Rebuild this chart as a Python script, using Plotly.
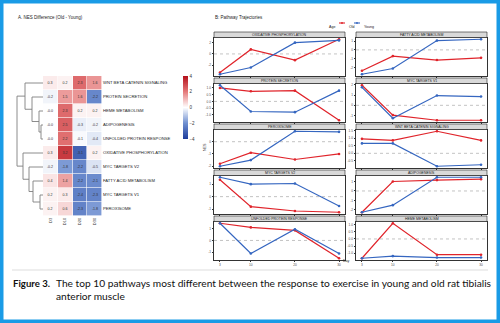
import plotly.graph_objects as go

# ---------------- data ----------------
pathways = ["WNT BETA CATENIN SIGNALING", "PROTEIN SECRETION", "HEME METABOLISM",
            "ADIPOGENESIS", "UNFOLDED PROTEIN RESPONSE", "OXIDATIVE PHOSPHORYLATION",
            "MYC TARGETS V2", "FATTY ACID METABOLISM", "MYC TARGETS V1", "PEROXISOME"]
day_labels = ["D3", "D10", "D20", "D30"]
nes_diff = [
    [0.3, 0.2, 2.3, 1.6],
    [-0.2, 1.5, 1.6, -2.2],
    [-0.02, 2.3, 0.2, 0.2],
    [-0.02, 2.5, -0.3, -0.2],
    [-0.02, 2.2, -0.1, -0.4],
    [0.3, 3.2, -3.1, 0.2],
    [-0.2, -1.8, -2.2, -0.5],
    [0.4, 1.4, -2.2, -2.1],
    [0.2, 0.3, -2.4, -2.3],
    [0.2, 0.6, -2.3, -1.8],
]
# hierarchical clustering merges (child a, child b, height); new nodes numbered from 10
merges = [(3, 4, 0.2), (2, 10, 0.4), (1, 11, 1.1), (0, 12, 1.8),
          (8, 9, 0.3), (7, 14, 1.0), (6, 15, 1.4), (5, 16, 2.0), (13, 17, 2.6)]
colorbar_ticks = [-4, -2, 0, 2, 4]

days = [3, 10, 20, 30]
facets = ["OXIDATIVE PHOSPHORYLATION", "FATTY ACID METABOLISM", "PROTEIN SECRETION",
          "MYC TARGETS V1", "PEROXISOME", "WNT BETA CATENIN SIGNALING", "MYC TARGETS V2",
          "ADIPOGENESIS", "UNFOLDED PROTEIN RESPONSE", "HEME METABOLISM"]
old_nes = {
    "OXIDATIVE PHOSPHORYLATION": [-3.3, 0.8, -1.1, 2.6],
    "FATTY ACID METABOLISM": [-2.35, -0.7, -1.15, -0.9],
    "PROTEIN SECRETION": [1.0, 0.75, 0.8, -1.4],
    "MYC TARGETS V1": [1.95, -0.95, -1.45, -1.45],
    "PEROXISOME": [-1.8, -0.9, -1.45, -1.0],
    "WNT BETA CATENIN SIGNALING": [0.95, 0.85, 1.45, 0.85],
    "MYC TARGETS V2": [1.35, -0.8, -1.15, -1.25],
    "ADIPOGENESIS": [-2.25, 1.0, 1.15, 1.25],
    "UNFOLDED PROTEIN RESPONSE": [1.45, 1.1, 0.85, -1.5],
    "HEME METABOLISM": [-1.35, 1.1, -1.1, -1.1],
}
young_nes = {
    "OXIDATIVE PHOSPHORYLATION": [-3.6, -2.4, 2.0, 2.4],
    "FATTY ACID METABOLISM": [-2.75, -2.1, 1.05, 1.2],
    "PROTEIN SECRETION": [1.2, -0.75, -0.8, 0.8],
    "MYC TARGETS V1": [1.75, -1.25, 0.95, 0.85],
    "PEROXISOME": [-2.0, -1.5, 0.85, 0.8],
    "WNT BETA CATENIN SIGNALING": [0.65, 0.65, -0.85, -0.75],
    "MYC TARGETS V2": [1.55, 1.0, 1.05, -0.75],
    "ADIPOGENESIS": [-2.25, -1.5, 1.45, 1.45],
    "UNFOLDED PROTEIN RESPONSE": [1.45, -1.1, 0.95, -1.1],
    "HEME METABOLISM": [-1.35, -1.2, -1.3, -1.3],
}
y_breaks = {
    "OXIDATIVE PHOSPHORYLATION": [-2, 0, 2],
    "FATTY ACID METABOLISM": [-2, -1, 0, 1],
    "PROTEIN SECRETION": [-1, -0.5, 0, 0.5, 1],
    "MYC TARGETS V1": [-1, 0, 1, 2],
    "PEROXISOME": [-2, -1, 0],
    "WNT BETA CATENIN SIGNALING": [-0.5, 0, 0.5, 1, 1.5],
    "MYC TARGETS V2": [-1, 0, 1],
    "ADIPOGENESIS": [-2, -1, 0, 1],
    "UNFOLDED PROTEIN RESPONSE": [-1, 0, 1],
    "HEME METABOLISM": [-1, -0.5, 0, 0.5, 1],
}

# ---------------- layout helpers ----------------
W, H = 500, 323
def px(x): return x / W
def py(y): return 1 - y / H

FONT = "Liberation Sans"
RED = "#E0242B"
BLUE = "#3566C0"

fig = go.Figure()
shapes, annotations = [], []

# ---------------- heatmap ----------------
hm_x0, hm_x1, hm_y0, hm_y1 = 43, 102, 76, 216
fig.add_trace(go.Heatmap(
    z=nes_diff, x=list(range(len(day_labels))), y=list(range(len(pathways))),
    text=[[f"{v:.1f}" for v in row] for row in nes_diff], texttemplate="%{text}",
    textfont=dict(size=3.6, color="#333333", family=FONT),
    colorscale=[[0, "#1e3d9c"], [0.25, "#6f8fd0"], [0.5, "#ffffff"],
                [0.75, "#e57a7a"], [1, "#b40f1a"]],
    zmin=-4, zmax=4, xgap=0.6, ygap=0.6, hoverinfo="skip",
    xaxis="x", yaxis="y",
    colorbar=dict(x=px(183), xanchor="left", y=py(107.5), yanchor="middle",
                  lenmode="pixels", len=63, thickness=5, outlinewidth=0,
                  tickvals=colorbar_ticks, ticks="", tickfont=dict(size=4.5, color="#333", family=FONT),
                  xpad=0, ypad=0),
))

# ---------------- dendrogram ----------------
pos = {i: (0.0, float(i)) for i in range(len(pathways))}
dx, dy = [], []
for k, (a, b, h) in enumerate(merges):
    ha, ya = pos[a]
    hb, yb = pos[b]
    dx += [ha, h, h, hb, None]
    dy += [ya, ya, yb, yb, None]
    pos[len(pathways) + k] = (h, (ya + yb) / 2)
fig.add_trace(go.Scatter(x=dx, y=dy, mode="lines", line=dict(color="#7f7f7f", width=0.9),
                         xaxis="x2", yaxis="y2", hoverinfo="skip", showlegend=False))

layout = dict(
    width=W, height=H, margin=dict(l=0, r=0, t=0, b=0),
    paper_bgcolor="white", plot_bgcolor="white", showlegend=False,
    font=dict(family=FONT),
    xaxis=dict(domain=[px(hm_x0), px(hm_x1)], anchor="y", range=[-0.5, 3.5],
               tickvals=list(range(4)), ticktext=day_labels, tickangle=-90,
               tickfont=dict(size=4, color="#333"), ticks="", showgrid=False, zeroline=False,
               showline=False),
    yaxis=dict(domain=[py(hm_y1), py(hm_y0)], anchor="x", range=[9.5, -0.5], side="right",
               tickvals=list(range(10)), ticktext=pathways, tickfont=dict(size=4.2, color="#222"),
               ticks="", showgrid=False, zeroline=False, showline=False),
    xaxis2=dict(domain=[px(15), px(hm_x0)], anchor="y2", range=[2.8, 0], visible=False),
    yaxis2=dict(domain=[py(hm_y1), py(hm_y0)], anchor="x2", range=[9.5, -0.5], visible=False),
)

# ---------------- trajectory panels ----------------
col_x = [(214, 345), (356, 487)]
x_pad = (days[-1] - days[0]) * 0.05
for i, name in enumerate(facets):
    r, c = divmod(i, 2)
    n = i + 3
    xl, xr = col_x[c]
    ht = 32 + 46 * r
    top, bot = ht + 5.5, ht + 44
    vals = old_nes[name] + young_nes[name]
    lo, hi = min(vals), max(vals)
    pad = (hi - lo) * 0.05
    br = y_breaks[name]
    is_int = all(float(b).is_integer() for b in br)
    ttxt = [f"{b:.0f}" if is_int else f"{b:.1f}" for b in br]
    layout[f"xaxis{n}"] = dict(domain=[px(xl), px(xr)], anchor=f"y{n}",
                               range=[days[0] - x_pad, days[-1] + x_pad],
                               tickvals=days, ticktext=[str(d) for d in days],
                               showticklabels=(r == 4), ticks="outside", ticklen=1.5, tickwidth=0.5,
                               tickcolor="#333", tickfont=dict(size=3.2, color="#4d4d4d"),
                               showline=True, mirror=True, linecolor="#333", linewidth=0.6,
                               showgrid=False, zeroline=False)
    layout[f"yaxis{n}"] = dict(domain=[py(bot), py(top)], anchor=f"x{n}",
                               range=[lo - pad, hi + pad], tickvals=br, ticktext=ttxt,
                               ticks="outside", ticklen=1.5, tickwidth=0.5, tickcolor="#333",
                               tickfont=dict(size=3.2, color="#4d4d4d"),
                               showline=True, mirror=True, linecolor="#333", linewidth=0.6,
                               showgrid=False, zeroline=False)
    shapes.append(dict(type="line", xref=f"x{n} domain", yref=f"y{n}", x0=0, x1=1, y0=0, y1=0,
                       line=dict(color="#9a9a9a", width=0.6, dash="dot"), layer="below"))
    fig.add_trace(go.Scatter(x=days, y=old_nes[name], mode="lines+markers",
                             line=dict(color=RED, width=1.2), marker=dict(size=2.6, color=RED),
                             xaxis=f"x{n}", yaxis=f"y{n}", hoverinfo="skip"))
    fig.add_trace(go.Scatter(x=days, y=young_nes[name], mode="lines+markers",
                             line=dict(color=BLUE, width=1.2), marker=dict(size=2.6, color=BLUE),
                             xaxis=f"x{n}", yaxis=f"y{n}", hoverinfo="skip"))
    # strip
    shapes.append(dict(type="rect", xref="paper", yref="paper", x0=px(xl), x1=px(xr),
                       y0=py(ht + 5.5), y1=py(ht), fillcolor="#d9d9d9",
                       line=dict(color="#222", width=0.6)))
    annotations.append(dict(x=px((xl + xr) / 2), y=py(ht + 2.9), xref="paper", yref="paper",
                            text=name, showarrow=False, xanchor="center", yanchor="middle",
                            font=dict(size=3.5, color="#1a1a1a")))

# axis titles
annotations.append(dict(x=px(352), y=py(265), xref="paper", yref="paper", text="Day",
                        showarrow=False, font=dict(size=3.6, color="#222")))
annotations.append(dict(x=px(205), y=py(147), xref="paper", yref="paper", text="NES",
                        textangle=-90, showarrow=False, font=dict(size=3.6, color="#222")))

# legend (manual)
annotations.append(dict(x=px(327), y=py(23), xref="paper", yref="paper", text="Age",
                        showarrow=False, xanchor="left", font=dict(size=3.6, color="#222")))
for lx, col, lab in [(339, RED, "Old"), (354, BLUE, "Young")]:
    shapes.append(dict(type="line", xref="paper", yref="paper", x0=px(lx), x1=px(lx + 6),
                       y0=py(23), y1=py(23), line=dict(color=col, width=1.1)))
    shapes.append(dict(type="circle", xref="paper", yref="paper", x0=px(lx + 2.1), x1=px(lx + 3.9),
                       y0=py(23.9), y1=py(22.1), fillcolor=col, line=dict(width=0)))
    annotations.append(dict(x=px(lx + 7.5), y=py(23), xref="paper", yref="paper", text=lab,
                            showarrow=False, xanchor="left", font=dict(size=3.6, color="#222")))

# panel titles
annotations.append(dict(x=px(16), y=py(13), xref="paper", yref="paper",
                        text="A. NES Difference (Old - Young)", showarrow=False,
                        xanchor="left", font=dict(size=4.5, color="#222")))
annotations.append(dict(x=px(213), y=py(13), xref="paper", yref="paper",
                        text="B: Pathway Trajectories", showarrow=False,
                        xanchor="left", font=dict(size=4.5, color="#222")))

# separator and caption
shapes.append(dict(type="line", xref="paper", yref="paper", x0=px(12), x1=px(488),
                   y0=py(270), y1=py(270), line=dict(color="#d4d4d4", width=0.8)))
CAP = "Lato"
annotations.append(dict(x=px(11), y=py(290.5), xref="paper", yref="paper", text="<b>Figure 3.</b>",
                        showarrow=False, xanchor="left", font=dict(size=9.6, color="#111", family=CAP)))
annotations.append(dict(x=px(54), y=py(290.5), xref="paper", yref="paper",
                        text="The top 10 pathways most different between the response to exercise in young and old rat tibialis",
                        showarrow=False, xanchor="left", font=dict(size=10.2, color="#111", family=CAP)))
annotations.append(dict(x=px(54), y=py(303.5), xref="paper", yref="paper", text="anterior muscle",
                        showarrow=False, xanchor="left", font=dict(size=10.2, color="#111", family=CAP)))

# blue frame
shapes.append(dict(type="rect", xref="paper", yref="paper", x0=px(1.75), x1=px(498.25),
                   y0=py(321.25), y1=py(1.75), line=dict(color="#1A9BE6", width=3.5)))

layout["shapes"] = shapes
layout["annotations"] = annotations
fig.update_layout(**layout)
fig.write_html("out.html")
